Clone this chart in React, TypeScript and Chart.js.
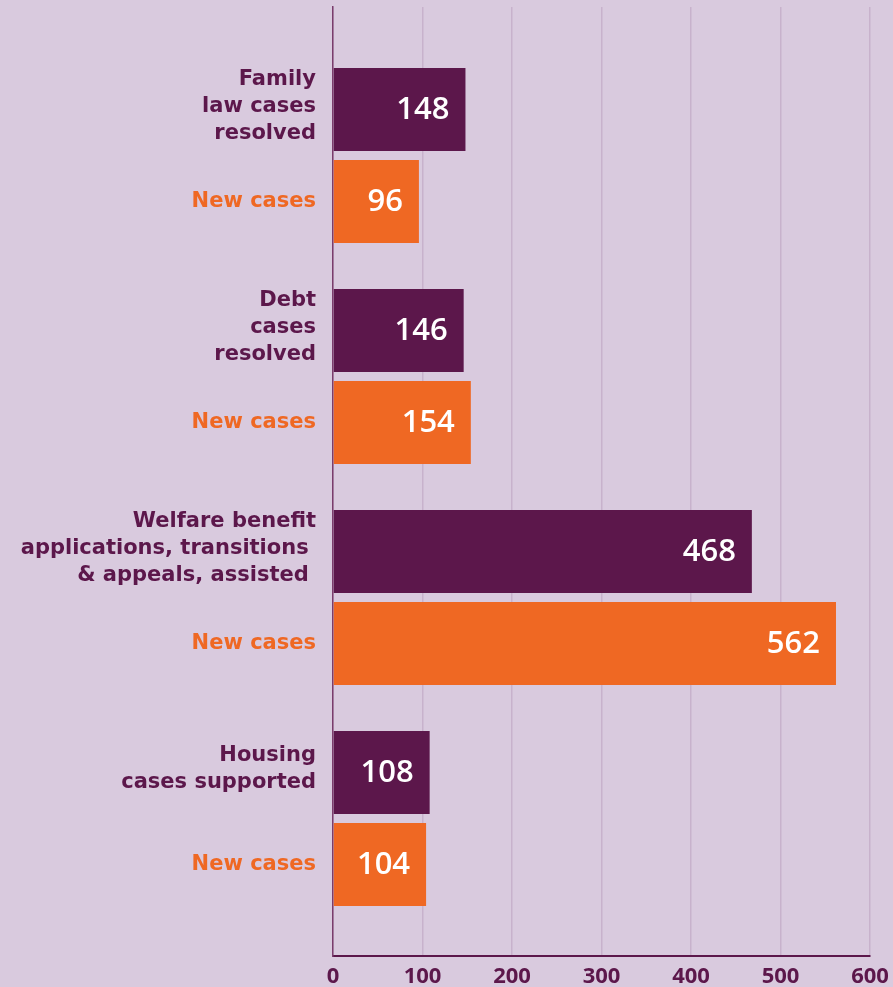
import React, { useEffect, useRef } from "react";
import { Chart, registerables } from "chart.js";

Chart.register(...registerables);

// ---- data ----
const groupNames = ["Family law", "Debt", "Welfare benefit", "Housing"];
const primaryLabels: string[][] = [
  ["Family", "law cases", "resolved"],
  ["Debt", "cases", "resolved"],
  ["Welfare benefit", "applications, transitions ", "& appeals, assisted "],
  ["Housing", "cases supported"],
];
const primaryValues = [148, 146, 468, 108];
const newCasesLabel = "New cases";
const newCasesValues = [96, 154, 562, 104];
const xTickValues = [0, 100, 200, 300, 400, 500, 600];

// ---- style ----
const BG = "#d9cade";
const PURPLE = "#5c174b";
const ORANGE = "#ef6823";
const GRID = "#c8b2cc";
const FONT = '"Open Sans", "DejaVu Sans", sans-serif';
const LABEL_FONT = '"DejaVu Sans", "Open Sans", sans-serif';

const labelPlugin = {
  id: "barLabels",
  afterDatasetsDraw(chart: any) {
    const ctx = chart.ctx;
    const left = chart.chartArea.left;
    ctx.save();
    chart.data.datasets.forEach((ds: any, di: number) => {
      const meta = chart.getDatasetMeta(di);
      meta.data.forEach((bar: any, i: number) => {
        const val = ds.data[i].x;
        // value inside bar
        ctx.font = `600 31px ${FONT}`;
        ctx.fillStyle = "#ffffff";
        ctx.textAlign = "right";
        ctx.textBaseline = "middle";
        ctx.fillText(String(val), bar.x - 16, bar.y + 1);
        // category label on the left
        const lines: string[] = di === 0 ? primaryLabels[i] : [newCasesLabel];
        ctx.font = `bold 21px ${LABEL_FONT}`;
        ctx.fillStyle = di === 0 ? PURPLE : ORANGE;
        const lh = 27;
        const n = lines.length;
        lines.forEach((line, li) => {
          const y = bar.y + (li - (n - 1) / 2) * lh - (n > 1 ? 3 : 0);
          ctx.fillText(line, left - 17, y);
        });
      });
    });
    ctx.restore();
  },
};

export default function App() {
  const ref = useRef<HTMLCanvasElement | null>(null);
  useEffect(() => {
    document.body.style.margin = "0";
    document.body.style.background = BG;
    const canvas = ref.current!;
    const chart = new Chart(canvas, {
      type: "bar",
      data: {
        datasets: [
          {
            label: "Resolved / assisted",
            data: primaryValues.map((v, i) => ({ x: v, y: i })),
            backgroundColor: PURPLE,
            borderWidth: 0,
          },
          {
            label: newCasesLabel,
            data: newCasesValues.map((v, i) => ({ x: v, y: i })),
            backgroundColor: ORANGE,
            borderWidth: 0,
          },
        ],
      },
      options: {
        indexAxis: "y",
        responsive: false,
        animation: false,
        events: [],
        layout: { padding: { top: 7, left: 333, right: 23, bottom: 0 } },
        datasets: {
          bar: { categoryPercentage: 0.8326, barPercentage: 0.902 },
        },
        plugins: {
          legend: { display: false },
          tooltip: { enabled: false },
          title: { display: false },
        },
        scales: {
          x: {
            type: "linear",
            min: 0,
            max: 600,
            afterBuildTicks: (scale: any) => {
              scale.ticks = xTickValues.map((v) => ({ value: v }));
            },
            afterFit: (scale: any) => {
              scale.height = 31;
              scale.paddingLeft = 0;
              scale.paddingRight = 0;
            },
            grid: { color: GRID, lineWidth: 1.5, drawTicks: false },
            border: { display: true, color: PURPLE, width: 2 },
            ticks: {
              color: PURPLE,
              padding: 10,
              maxRotation: 0,
              font: { family: FONT, size: 22, weight: "bold", lineHeight: 1 },
            },
          },
          y: {
            type: "linear",
            reverse: true,
            offset: false,
            min: -0.672,
            max: 3.622,
            afterBuildTicks: (scale: any) => {
              scale.ticks = groupNames.map((_, i) => ({ value: i }));
            },
            grid: { display: false, drawTicks: false },
            border: { display: true, color: "#7a3d6c", width: 1.5 },
            ticks: { display: false },
          },
        },
      },
      plugins: [labelPlugin],
    });
    return () => chart.destroy();
  }, []);
  return (
    <div style={{ width: 893, height: 987, background: BG }}>
      <canvas ref={ref} width={893} height={987} style={{ display: "block" }} />
    </div>
  );
}
